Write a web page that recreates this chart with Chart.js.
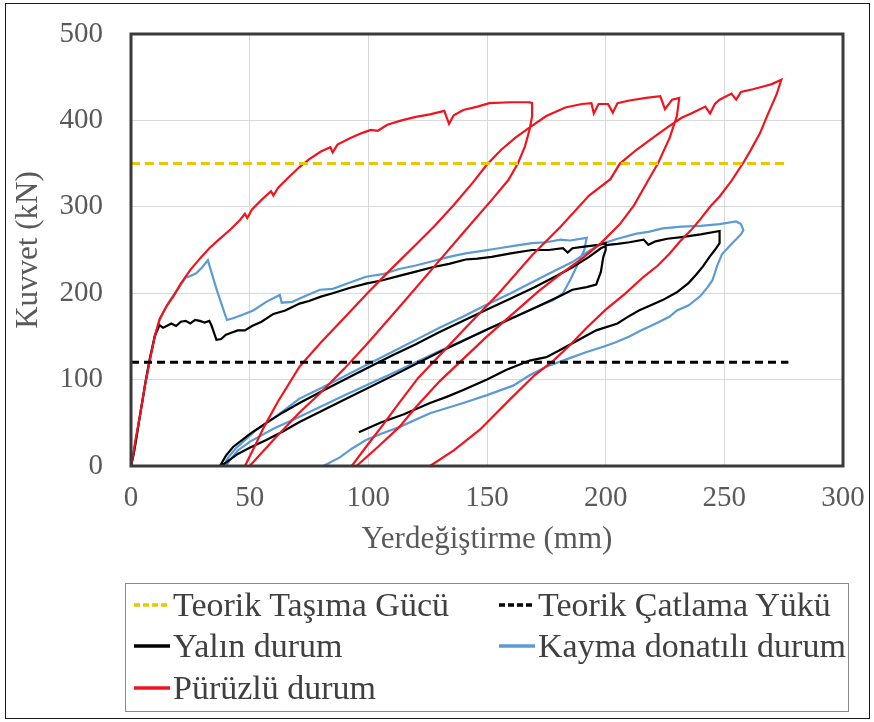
<!DOCTYPE html>
<html><head><meta charset="utf-8">
<script src="https://cdn.jsdelivr.net/npm/chart.js@4.4.1/dist/chart.umd.min.js"></script>
<style>
html,body{margin:0;padding:0;background:#fff;}
#wrap{position:relative;width:874px;height:722px;overflow:hidden;background:#fff;}
#c{position:absolute;left:0;top:0;}
#outer{position:absolute;left:5px;top:3px;width:865px;height:716px;border:1px solid #1a1a1a;box-sizing:border-box;pointer-events:none;}
#legend{position:absolute;left:125px;top:583px;width:724px;height:129px;border:1.5px solid #8a8a8a;box-sizing:border-box;font-family:"Liberation Serif","Times New Roman",serif;color:#404040;}
.item{position:absolute;display:flex;align-items:center;height:40px;font-size:34px;white-space:nowrap;}
.item svg{margin-right:3px;flex:none;}
</style></head>
<body>
<div id="wrap">
<canvas id="c" width="874" height="722"></canvas>
<div id="outer"></div>
<div id="legend"></div>
</div>
<script>
// ---- data ----
const xAxisTitle = 'Yerdeğiştirme (mm)';
const yAxisTitle = 'Kuvvet (kN)';
const xRange = [0, 300, 50];
const yRange = [0, 500, 100];
const seriesNames = ['Teorik Taşıma Gücü','Teorik Çatlama Yükü','Yalın durum','Kayma donatılı durum','Pürüzlü durum'];

const tasimaX = [0, 277];
const tasimaY = [350, 350];
const catlamaX = [0, 277];
const catlamaY = [120, 120];

// Yalın durum (displacement mm, force kN)
const yalinPts = [
[0,0],[1,12],[2,28],[4,62],[6,95],[8,125],[10,150],[12,163],[13.5,160],[15,162],[17,165],[19,162],[21,167],[23,168],[25,165],[27,169],[29,168],[31,166],[33,168],[34,162],[36,146],[38,147],[40,152],[42,154],[45,157],[48,157],[51,162],[55,167],[60,176],[65,180],[71,188],[75,191],[80,196],[85,200],[92,206],[99,211],[106,215],[113,220],[120,225],[127,230],[134,234],[141,239],[146,240],[152,242],[160,246],[169,250],[176,250],[182,252],[184,247],[186,252],[191,254],[197,256],[200,258],
[200,250],[199,242],[198,225],[196,210],[192,207],[186,204],[181,197],[170,183],[150,158],[130,132],[110,104],[90,77],[71,51],[64,40],[57,30],[50,21],[45,14],[41,6],[38,0],
[37.5,0],[40,12],[43,22],[50,37],[57,50],[64,62],[71,73],[80,86],[90,100],[100,114],[110,128],[120,141],[130,155],[140,168],[150,181],[160,194],[170,207],[180,221],[186,230],[193,242],[198,252],[201,256],[205,257],[210,259],[216,262],[218,256],[221,260],[226,263],[232,265],[240,268],[248,272],
[248,258],[246,250],[244,243],[241,231],[238,221],[235,212],[230,201],[224,192],[219,186],[214,180],[209,172],[205,165],[196,157],[186,142],[180,133],[175,126],[168,122],[158,111],[150,100],[140,88],[133,80],[126,73],[115,60],[105,50],[96,39]
];

// Kayma donatılı durum
const kaymaPts = [
[0,0],[1,12],[2,28],[4,62],[6,96],[8,125],[10,150],[12,168],[13.5,177],[16,190],[18,198],[20,206],[23,218],[25,220],[27.5,223],[30,230],[32.4,238],[36,205],[40.4,169],[43,171],[47,175],[51.5,180],[57,190],[62.7,198],[63.5,189],[68,190],[72,195],[79.6,204],[85,205],[92,212],[99,219],[106,222],[113,228],[120,232],[127,237],[134,242],[141,246],[148,249],[155,252],[162,255],[169,258],[175,259],[181,262],[185,261],[192,264],
[191,250],[188,232],[185,215],[182,200],[178,192],[170,183],[150,158],[130,133],[110,107],[90,82],[71,57],[60,43],[50,28],[45,18],[42,8],[40,0],
[39,0],[41,10],[44,20],[48,30],[52,40],[60,55],[71,78],[80,90],[90,104],[100,118],[110,132],[120,146],[130,160],[140,173],[150,187],[160,200],[170,214],[180,228],[186,236],[193,249],[198,257],[205,263],[213,269],[218,271],[224,275],[232,277],[240,278],[248,280],[255,283],
[257,280],[258,273],[257,268],[253,257],[249,245],[247,232],[245,215],[243,207],[240,197],[235,186],[230,180],[227,173],[222,166],[218,161],[215,157],[210,150],[204,143],[199,138],[192,132],[186,126],[175,115],[168,105],[161,93],[150,82],[140,73],[126,61],[113,45],[106,38],[99,30],[93,20],[88,10],[81,0]
];

// Pürüzlü durum
const puruzPts = [
[0,0],[1,15],[2,32],[4,62],[6,95],[8,123],[10,150],[12,170],[15,185],[18,197],[21,211],[25,227],[29,240],[33,252],[37,262],[42,274],[46,285],[48,292],[49,287],[51,297],[55,308],[59,318],[60,313],[62,322],[66,333],[71,346],[75,355],[80,364],[84,369],[85,363],[87,372],[92,379],[97,385],[101,389],[104,388],[108,395],[114,400],[120,404],[126,407],[132,411],[134,396],[136,406],[140,412],[146,416],[151,420],[160,421],[168,421],
[169,420],[169,405],[168,390],[166,370],[163,350],[159,331],[152,308],[140,270],[130,238],[115,190],[100,143],[90,113],[80,85],[71,62],[60,30],[50,0],
[48,0],[52,22],[56,45],[62,75],[71,115],[80,143],[90,172],[100,201],[110,229],[120,256],[128,278],[136,302],[144,328],[150,349],[156,366],[162,380],[168,392],[175,405],[183,415],[190,419],[194,420],[195,408],[197,419],[201,419],[203,409],[205,420],[210,423],[217,426],[223,428],[225,413],[228,424],[231,426],
[230,405],[227,380],[222,350],[218,331],[212,302],[206,280],[198,258],[190,240],[181,222],[172,203],[160,174],[150,150],[140,124],[130,98],[120,68],[113,45],[104,22],[95,0],
[93,0],[99,22],[106,47],[113,73],[121,102],[130,128],[141,160],[155,200],[169,244],[181,277],[193,313],[202,332],[206,350],[213,366],[220,380],[226,392],[232,403],
[236,408],[242,416],[244,408],[246,419],[248,424],[253,431],[255,424],[257,433],[262,436],[266,439],[270,442],[274,447],
[272,430],[268,405],[265,385],[261,365],[258,351],[253,330],[248,312],[244,300],[240,286],[236,273],[231,259],[227,246],[222,232],[216,219],[208,199],[200,181],[192,160],[185,140],[178,122],[170,105],[160,78],[147,42],[136,18],[126,0]
];

// ---- chart ----
const toXY = pts => pts.map(p => ({x:p[0], y:p[1]}));
const zip = (xs, ys) => xs.map((x,i) => ({x:x, y:ys[i]}));
const colors = ['#E8C800','#000000','#000000','#5B9BD5','#F0141E'];
const dashes = [[9,5],[8,5],[],[],[]];
const widths = [3,3,2.2,2.2,2.2];
const orders = [0,1,3,4,2];
const seriesData = [zip(tasimaX,tasimaY), zip(catlamaX,catlamaY), toXY(yalinPts), toXY(kaymaPts), toXY(puruzPts)];

const serif = '"Liberation Serif","Times New Roman",serif';
const frame = {
  id:'frame',
  afterDraw(chart){
    const a = chart.chartArea, ctx = chart.ctx;
    ctx.save();
    ctx.strokeStyle = '#3a3a3a';
    ctx.lineWidth = 3;
    ctx.strokeRect(a.left, a.top, a.right - a.left, a.bottom - a.top);
    ctx.restore();
  }
};

const chart = new Chart(document.getElementById('c'), {
  type:'scatter',
  data:{ datasets: seriesNames.map((n,i) => ({
    label:n, data:seriesData[i], showLine:true, pointRadius:0, pointHoverRadius:0,
    borderColor:colors[i], backgroundColor:colors[i], borderWidth:widths[i],
    borderDash:dashes[i], fill:false, tension:0, order:orders[i]
  }))},
  options:{
    responsive:false, animation:false, devicePixelRatio:1,
    layout:{padding:{left:10, right:31, top:34, bottom:156}},
    plugins:{legend:{display:false}, tooltip:{enabled:false}},
    scales:{
      x:{type:'linear', min:xRange[0], max:xRange[1],
        ticks:{stepSize:xRange[2], padding:2, color:'#595959', font:{family:serif, size:29}},
        grid:{color:'#d9d9d9', drawTicks:true, tickLength:13, tickColor:'rgba(0,0,0,0)'},
        border:{display:false},
        title:{display:true, text:xAxisTitle, color:'#595959', font:{family:serif, size:31}, padding:{top:0,bottom:8}},
        afterFit(s){ s.height = 100; }
      },
      y:{type:'linear', min:yRange[0], max:yRange[1],
        ticks:{stepSize:yRange[2], padding:2, color:'#595959', font:{family:serif, size:29}},
        grid:{color:'#d9d9d9', drawTicks:true, tickLength:26, tickColor:'rgba(0,0,0,0)'},
        border:{display:false},
        title:{display:true, text:yAxisTitle, color:'#595959', font:{family:serif, size:31}, padding:{top:0,bottom:0}},
        afterFit(s){ s.width = 121; }
      }
    }
  },
  plugins:[frame]
});

// ---- legend (HTML, real text) ----
const legendPos = [[8,1],[373,1],[8,42],[373,42],[8,84]];
const leg = document.getElementById('legend');
seriesNames.forEach((n,i) => {
  const d = document.createElement('div');
  d.className = 'item';
  d.style.left = legendPos[i][0] + 'px';
  d.style.top = legendPos[i][1] + 'px';
  const dash = dashes[i].length ? 'stroke-dasharray="6,3"' : '';
  d.innerHTML = '<svg width="36" height="6"><line x1="0" y1="3" x2="36" y2="3" stroke="' + colors[i] + '" stroke-width="3.5" ' + dash + '/></svg><span>' + n + '</span>';
  leg.appendChild(d);
});
</script>
</body></html>
